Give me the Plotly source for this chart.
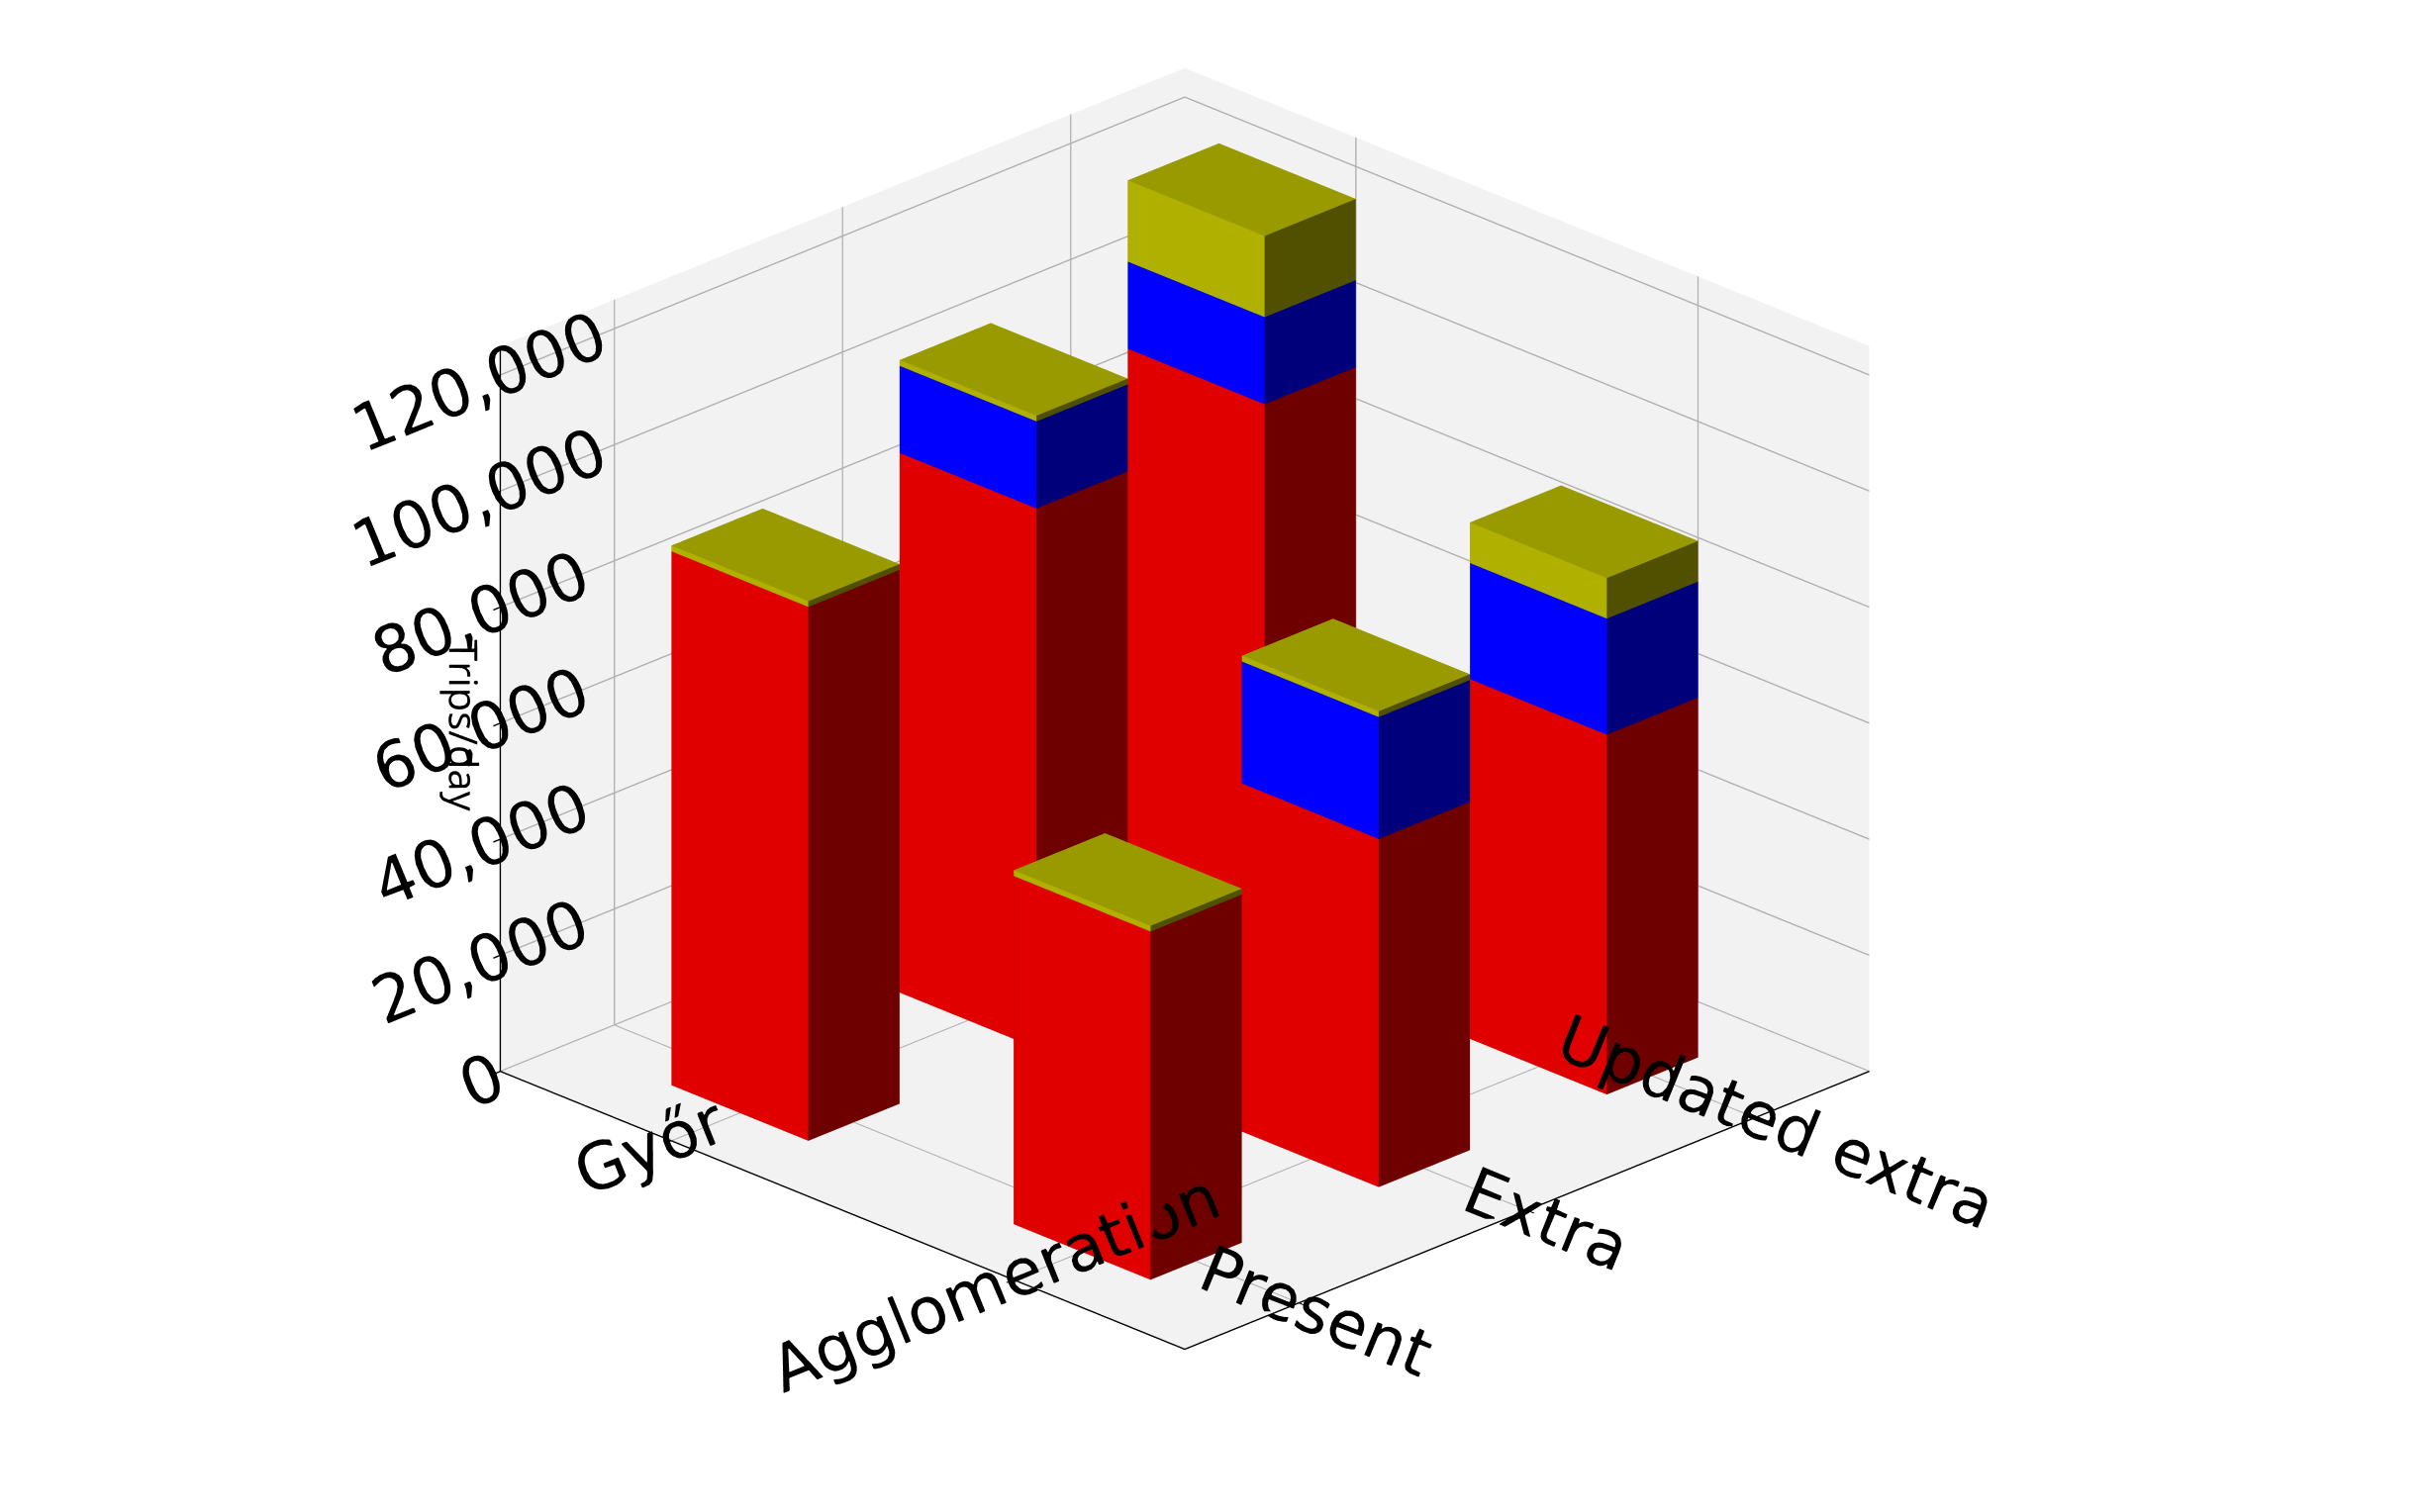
import plotly.graph_objects as go

regions = ["Győr", "Agglomeration"]
scenarios = ["Present", "Extra", "Updated extra"]
# [region][scenario]
red = [[92000, 93000, 95000], [60000, 60000, 62000]]
blue = [[0, 15000, 15000], [0, 21000, 20000]]
yellow = [[1000, 1000, 14000], [1000, 1000, 7000]]

layers = [(red, ("#e00000", "#c80000", "#6e0000")),
          (blue, ("#0000ff", "#0000e0", "#00007a")),
          (yellow, ("#b0b000", "#999900", "#505000"))]

W = 0.4
fig = go.Figure()
for ri in range(len(regions)):
    for si in range(len(scenarios)):
        base = 0
        for vals, (front, top, side) in layers:
            h = vals[ri][si]
            if h <= 0:
                continue
            x0, x1 = ri - W / 2, ri + W / 2
            y0, y1 = si - W / 2, si + W / 2
            z0, z1 = base, base + h
            xs = [x0, x1, x1, x0, x0, x1, x1, x0]
            ys = [y0, y0, y1, y1, y0, y0, y1, y1]
            zs = [z0, z0, z0, z0, z1, z1, z1, z1]
            tris = [
                (0, 1, 2, side), (0, 2, 3, side),
                (4, 5, 6, top), (4, 6, 7, top),
                (0, 1, 5, front), (0, 5, 4, front),
                (3, 2, 6, front), (3, 6, 7, front),
                (1, 2, 6, side), (1, 6, 5, side),
                (0, 3, 7, side), (0, 7, 4, side),
            ]
            fig.add_trace(go.Mesh3d(
                x=xs, y=ys, z=zs,
                i=[t[0] for t in tris], j=[t[1] for t in tris], k=[t[2] for t in tris],
                facecolor=[t[3] for t in tris], flatshading=True,
                lighting=dict(ambient=1, diffuse=0, specular=0, fresnel=0),
                hoverinfo="skip", showscale=False))
            base = z1

axcommon = dict(showbackground=True, backgroundcolor="#f2f2f2", gridcolor="#b0b0b0",
                gridwidth=3, showline=True, linecolor="black", linewidth=3,
                ticks="outside", tickcolor="black", ticklen=10, tickwidth=3,
                tickfont=dict(size=28, color="black", family="DejaVu Sans"),
                title=dict(text=""), zeroline=False)
fig.update_layout(
    width=2452, height=1528, paper_bgcolor="white", showlegend=False,
    margin=dict(l=0, r=0, t=0, b=0),
    scene=dict(
        domain=dict(x=[0.0, 0.97], y=[0.0, 1.0]),
        xaxis=dict(axcommon, tickvals=[0, 1], ticktext=regions, range=[-0.5, 1.5]),
        yaxis=dict(axcommon, tickvals=[0, 1, 2], ticktext=scenarios, range=[-0.5, 2.5]),
        zaxis=dict(axcommon, range=[0, 125000], tickvals=list(range(0, 120001, 20000)),
                   tickformat=",", title=dict(text="Trips/day", font=dict(size=40, color="black"))),
        aspectmode="manual", aspectratio=dict(x=1.28, y=1.28, z=1.05),
        camera=dict(eye=dict(x=1.05, y=-1.05, z=0.58), center=dict(x=0, y=0, z=-0.08),
                    projection=dict(type="orthographic")),
    ))
fig.write_html("out.html")
